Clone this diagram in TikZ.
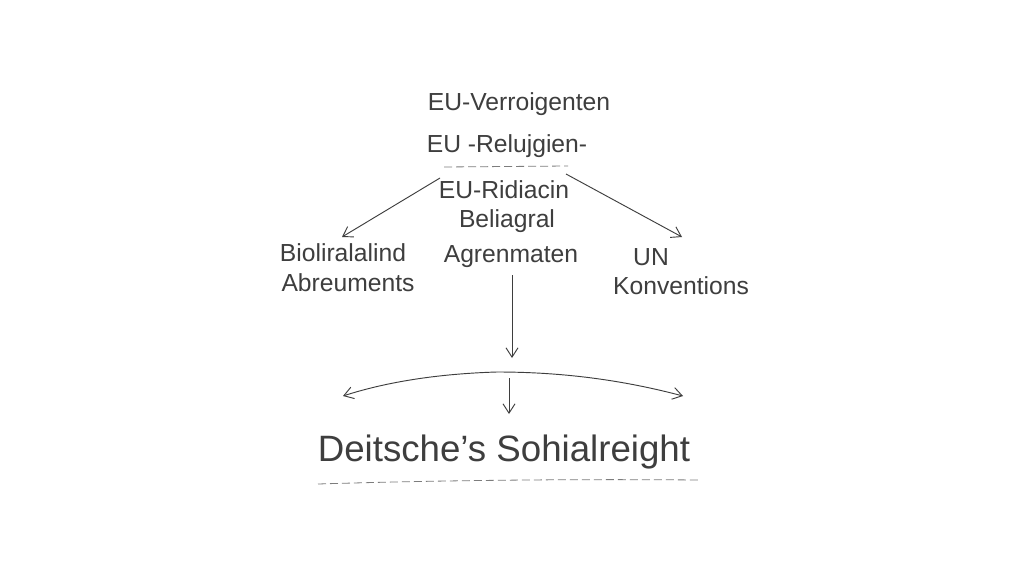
\documentclass[tikz,border=0pt]{standalone}
\usepackage{fontspec}
\setmainfont{Liberation Sans}
\usetikzlibrary{arrows.meta}
\definecolor{ink}{RGB}{62,62,62}
\definecolor{dashc}{RGB}{125,125,125}
\tikzset{
  lbl/.style={text=ink, inner sep=0pt, font=\fontsize{18.5}{20}\selectfont},
  biglbl/.style={text=ink, inner sep=0pt, font=\fontsize{27.5}{30}\selectfont},
  conn/.style={draw=ink, line width=0.7pt, -{Straight Barb[length=7pt,width=9pt]}},
  dashline/.style={draw=dashc, line width=0.6pt, dash pattern=on 6pt off 3pt},
}
\begin{document}
\begin{tikzpicture}[x=0.75pt,y=-0.75pt]
\useasboundingbox (0,0) rectangle (1024,585);
\fill[white] (0,0) rectangle (1024,585);
\node[lbl] (v) at (519,104) {EU-Verroigenten};
\node[lbl] (r) at (507,146) {EU -Relujgien-};
\coordinate (d1) at (444,167);
\coordinate (d2) at (568,166);
\draw[dashline] (d1) -- (d2);
\node[lbl] (ri) at (504,190) {EU-Ridiacin};
\node[lbl] (be) at (507,221) {Beliagral};
\node[lbl] (ag) at (511,257) {Agrenmaten};
\node[lbl] (bio1) at (343,253) {Bioliralalind};
\node[lbl] (bio2) at (348,283) {Abreuments};
\node[lbl] (un1) at (651,257) {UN};
\node[lbl] (un2) at (681,286) {Konventions};
\coordinate (al) at (440,178);
\coordinate (ae) at (342,237);
\coordinate (ar) at (566,174);
\coordinate (are) at (682,237);
\draw[conn] (al) -- (ae);
\draw[conn] (ar) -- (are);
\coordinate (vs) at (512,275);
\coordinate (ve) at (512,358);
\draw[conn] (vs) -- (ve);
\coordinate (top) at (497,372);
\coordinate (lend) at (343,396);
\coordinate (rend) at (683,396);
\draw[conn] (top) .. controls (430,374) and (380,384) .. (lend);
\draw[conn] (top) .. controls (570,372) and (630,382) .. (rend);
\node[biglbl] (ds) at (504,452) {Deitsche's Sohialreight};
\coordinate (ss) at (509,378);
\coordinate (se) at (509,414);
\draw[conn] (ss) -- (se);
\coordinate (b1) at (318,484);
\coordinate (b2) at (698,480);
\draw[dashline] (b1) .. controls (450,480) and (580,479) .. (b2);
\end{tikzpicture}
\end{document}
